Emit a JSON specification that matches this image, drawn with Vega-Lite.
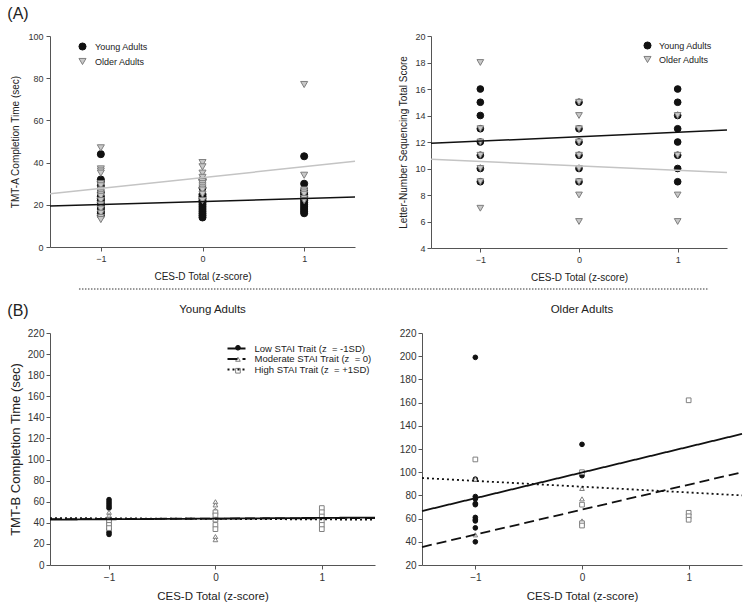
{
  "$schema": "https://vega.github.io/schema/vega-lite/v6.json",
  "background": "white",
  "padding": {"left": 7, "top": 6, "right": 5, "bottom": 5},
  "config": {
    "font": "Liberation Sans",
    "view": {"stroke": null},
    "axis": {"grid": false, "domainColor": "#555555", "tickColor": "#555555", "labelColor": "#333333", "titleColor": "#222222", "titleFontWeight": "normal", "tickSize": 4, "domainWidth": 1},
    "title": {"fontWeight": "normal", "color": "#222222"},
    "legend": {"padding": 0, "labelColor": "#222222"}
  },
  "title": {"text": "(A)", "anchor": "start", "fontSize": 16, "offset": 10, "dx": 0},
  "spacing": 6,
  "resolve": {"scale": {"shape": "independent", "fill": "independent", "stroke": "independent", "strokeDash": "independent"}, "legend": {"shape": "independent", "fill": "independent", "stroke": "independent", "strokeDash": "independent"}},
  "datasets": {
    "tmta": [
      {"x": -1, "y": 44, "group": "Young Adults"}, {"x": -1, "y": 32, "group": "Young Adults"}, {"x": -1, "y": 31, "group": "Young Adults"}, {"x": -1, "y": 29, "group": "Young Adults"}, {"x": -1, "y": 26, "group": "Young Adults"}, {"x": -1, "y": 24, "group": "Young Adults"}, {"x": -1, "y": 23, "group": "Young Adults"}, {"x": -1, "y": 22, "group": "Young Adults"}, {"x": -1, "y": 21, "group": "Young Adults"}, {"x": -1, "y": 20, "group": "Young Adults"}, {"x": -1, "y": 19, "group": "Young Adults"}, {"x": -1, "y": 18, "group": "Young Adults"}, {"x": -1, "y": 17, "group": "Young Adults"}, {"x": -1, "y": 16, "group": "Young Adults"}, {"x": -1, "y": 15, "group": "Young Adults"},
      {"x": 0, "y": 32, "group": "Young Adults"}, {"x": 0, "y": 28, "group": "Young Adults"}, {"x": 0, "y": 25, "group": "Young Adults"}, {"x": 0, "y": 24, "group": "Young Adults"}, {"x": 0, "y": 23, "group": "Young Adults"}, {"x": 0, "y": 22, "group": "Young Adults"}, {"x": 0, "y": 21, "group": "Young Adults"}, {"x": 0, "y": 20, "group": "Young Adults"}, {"x": 0, "y": 19, "group": "Young Adults"}, {"x": 0, "y": 18, "group": "Young Adults"}, {"x": 0, "y": 17, "group": "Young Adults"}, {"x": 0, "y": 16, "group": "Young Adults"}, {"x": 0, "y": 15, "group": "Young Adults"}, {"x": 0, "y": 14, "group": "Young Adults"},
      {"x": 1, "y": 43, "group": "Young Adults"}, {"x": 1, "y": 30, "group": "Young Adults"}, {"x": 1, "y": 27, "group": "Young Adults"}, {"x": 1, "y": 26, "group": "Young Adults"}, {"x": 1, "y": 25, "group": "Young Adults"}, {"x": 1, "y": 24, "group": "Young Adults"}, {"x": 1, "y": 23, "group": "Young Adults"}, {"x": 1, "y": 22, "group": "Young Adults"}, {"x": 1, "y": 21, "group": "Young Adults"}, {"x": 1, "y": 20, "group": "Young Adults"}, {"x": 1, "y": 19, "group": "Young Adults"}, {"x": 1, "y": 18, "group": "Young Adults"}, {"x": 1, "y": 17, "group": "Young Adults"}, {"x": 1, "y": 16, "group": "Young Adults"},
      {"x": -1, "y": 47, "group": "Older Adults"}, {"x": -1, "y": 37, "group": "Older Adults"}, {"x": -1, "y": 36, "group": "Older Adults"}, {"x": -1, "y": 35, "group": "Older Adults"}, {"x": -1, "y": 30, "group": "Older Adults"}, {"x": -1, "y": 29, "group": "Older Adults"}, {"x": -1, "y": 27, "group": "Older Adults"}, {"x": -1, "y": 26, "group": "Older Adults"}, {"x": -1, "y": 25, "group": "Older Adults"}, {"x": -1, "y": 24, "group": "Older Adults"}, {"x": -1, "y": 22, "group": "Older Adults"}, {"x": -1, "y": 20, "group": "Older Adults"}, {"x": -1, "y": 18, "group": "Older Adults"}, {"x": -1, "y": 16, "group": "Older Adults"}, {"x": -1, "y": 14, "group": "Older Adults"}, {"x": -1, "y": 13, "group": "Older Adults"},
      {"x": 0, "y": 40, "group": "Older Adults"}, {"x": 0, "y": 38, "group": "Older Adults"}, {"x": 0, "y": 35, "group": "Older Adults"}, {"x": 0, "y": 33, "group": "Older Adults"}, {"x": 0, "y": 31, "group": "Older Adults"}, {"x": 0, "y": 30, "group": "Older Adults"}, {"x": 0, "y": 29, "group": "Older Adults"}, {"x": 0, "y": 28, "group": "Older Adults"}, {"x": 0, "y": 27, "group": "Older Adults"}, {"x": 0, "y": 25, "group": "Older Adults"}, {"x": 0, "y": 22, "group": "Older Adults"},
      {"x": 1, "y": 77, "group": "Older Adults"}, {"x": 1, "y": 34, "group": "Older Adults"}, {"x": 1, "y": 27, "group": "Older Adults"}, {"x": 1, "y": 26, "group": "Older Adults"}, {"x": 1, "y": 25, "group": "Older Adults"}, {"x": 1, "y": 23, "group": "Older Adults"}, {"x": 1, "y": 22, "group": "Older Adults"}
    ],
    "tmta_fit": [
      {"x": -1.5, "y": 19.4, "group": "Young Adults"}, {"x": 1.5, "y": 23.7, "group": "Young Adults"},
      {"x": -1.5, "y": 25.2, "group": "Older Adults"}, {"x": 1.5, "y": 40.6, "group": "Older Adults"}
    ],
    "lns": [
      {"x": -1, "y": 16, "group": "Young Adults"}, {"x": -1, "y": 15, "group": "Young Adults"}, {"x": -1, "y": 14, "group": "Young Adults"}, {"x": -1, "y": 13, "group": "Young Adults"}, {"x": -1, "y": 12, "group": "Young Adults"}, {"x": -1, "y": 11, "group": "Young Adults"}, {"x": -1, "y": 10, "group": "Young Adults"}, {"x": -1, "y": 9, "group": "Young Adults"},
      {"x": 0, "y": 15, "group": "Young Adults"}, {"x": 0, "y": 13, "group": "Young Adults"}, {"x": 0, "y": 12, "group": "Young Adults"}, {"x": 0, "y": 11, "group": "Young Adults"}, {"x": 0, "y": 10, "group": "Young Adults"}, {"x": 0, "y": 9, "group": "Young Adults"},
      {"x": 1, "y": 16, "group": "Young Adults"}, {"x": 1, "y": 15, "group": "Young Adults"}, {"x": 1, "y": 14, "group": "Young Adults"}, {"x": 1, "y": 13, "group": "Young Adults"}, {"x": 1, "y": 12, "group": "Young Adults"}, {"x": 1, "y": 11, "group": "Young Adults"}, {"x": 1, "y": 10, "group": "Young Adults"}, {"x": 1, "y": 9, "group": "Young Adults"},
      {"x": -1, "y": 18, "group": "Older Adults"}, {"x": -1, "y": 13, "group": "Older Adults"}, {"x": -1, "y": 12, "group": "Older Adults"}, {"x": -1, "y": 11, "group": "Older Adults"}, {"x": -1, "y": 10, "group": "Older Adults"}, {"x": -1, "y": 9, "group": "Older Adults"}, {"x": -1, "y": 7, "group": "Older Adults"},
      {"x": 0, "y": 15, "group": "Older Adults"}, {"x": 0, "y": 14, "group": "Older Adults"}, {"x": 0, "y": 13, "group": "Older Adults"}, {"x": 0, "y": 12, "group": "Older Adults"}, {"x": 0, "y": 11, "group": "Older Adults"}, {"x": 0, "y": 10, "group": "Older Adults"}, {"x": 0, "y": 9, "group": "Older Adults"}, {"x": 0, "y": 8, "group": "Older Adults"}, {"x": 0, "y": 6, "group": "Older Adults"},
      {"x": 1, "y": 14, "group": "Older Adults"}, {"x": 1, "y": 11, "group": "Older Adults"}, {"x": 1, "y": 8, "group": "Older Adults"}, {"x": 1, "y": 6, "group": "Older Adults"}
    ],
    "lns_fit": [
      {"x": -1.5, "y": 11.9, "group": "Young Adults"}, {"x": 1.5, "y": 12.9, "group": "Young Adults"},
      {"x": -1.5, "y": 10.7, "group": "Older Adults"}, {"x": 1.5, "y": 9.7, "group": "Older Adults"}
    ],
    "tmtb_young": [
      {"x": -1, "y": 62, "trait": "Low"}, {"x": -1, "y": 60, "trait": "Low"}, {"x": -1, "y": 58, "trait": "Low"}, {"x": -1, "y": 56, "trait": "Low"}, {"x": -1, "y": 54, "trait": "Low"}, {"x": -1, "y": 40, "trait": "Low"}, {"x": -1, "y": 37, "trait": "Low"}, {"x": -1, "y": 34, "trait": "Low"}, {"x": -1, "y": 31, "trait": "Low"}, {"x": -1, "y": 29, "trait": "Low"},
      {"x": -1, "y": 50, "trait": "Moderate"}, {"x": -1, "y": 47, "trait": "Moderate"}, {"x": -1, "y": 44, "trait": "Moderate"},
      {"x": -1, "y": 42, "trait": "High"}, {"x": -1, "y": 38, "trait": "High"}, {"x": -1, "y": 35, "trait": "High"},
      {"x": 0, "y": 60, "trait": "Moderate"}, {"x": 0, "y": 57, "trait": "Moderate"}, {"x": 0, "y": 52, "trait": "Moderate"}, {"x": 0, "y": 27, "trait": "Moderate"}, {"x": 0, "y": 24, "trait": "Moderate"},
      {"x": 0, "y": 50, "trait": "High"}, {"x": 0, "y": 47, "trait": "High"}, {"x": 0, "y": 43, "trait": "High"}, {"x": 0, "y": 38, "trait": "High"}, {"x": 0, "y": 34, "trait": "High"},
      {"x": 1, "y": 54, "trait": "High"}, {"x": 1, "y": 50, "trait": "High"}, {"x": 1, "y": 46, "trait": "High"}, {"x": 1, "y": 42, "trait": "High"}, {"x": 1, "y": 38, "trait": "High"}, {"x": 1, "y": 34, "trait": "High"}
    ],
    "tmtb_young_fit": [
      {"x": -1.555, "y": 43, "line": "Low"}, {"x": 1.5, "y": 45, "line": "Low"},
      {"x": -1.555, "y": 43.5, "line": "Moderate"}, {"x": 1.5, "y": 44.5, "line": "Moderate"},
      {"x": -1.555, "y": 44.5, "line": "High"}, {"x": 1.5, "y": 43, "line": "High"}
    ],
    "tmtb_older": [
      {"x": -1, "y": 199, "trait": "Low"}, {"x": -1, "y": 94, "trait": "Low"}, {"x": -1, "y": 79, "trait": "Low"}, {"x": -1, "y": 77, "trait": "Low"}, {"x": -1, "y": 73, "trait": "Low"}, {"x": -1, "y": 72, "trait": "Low"}, {"x": -1, "y": 61, "trait": "Low"}, {"x": -1, "y": 59, "trait": "Low"}, {"x": -1, "y": 58, "trait": "Low"}, {"x": -1, "y": 52, "trait": "Low"}, {"x": -1, "y": 40, "trait": "Low"},
      {"x": -1, "y": 94, "trait": "Moderate"}, {"x": -1, "y": 46, "trait": "Moderate"},
      {"x": -1, "y": 111, "trait": "High"},
      {"x": 0, "y": 124, "trait": "Low"}, {"x": 0, "y": 97, "trait": "Low"},
      {"x": 0, "y": 86, "trait": "Moderate"}, {"x": 0, "y": 77, "trait": "Moderate"}, {"x": 0, "y": 58, "trait": "Moderate"},
      {"x": 0, "y": 100, "trait": "High"}, {"x": 0, "y": 72, "trait": "High"}, {"x": 0, "y": 56, "trait": "High"}, {"x": 0, "y": 54, "trait": "High"},
      {"x": 1, "y": 162, "trait": "High"}, {"x": 1, "y": 65, "trait": "High"}, {"x": 1, "y": 62, "trait": "High"}, {"x": 1, "y": 59, "trait": "High"}
    ],
    "tmtb_older_fit": [
      {"x": -1.5, "y": 66.5, "line": "Low"}, {"x": 1.5, "y": 133, "line": "Low"},
      {"x": -1.5, "y": 35.5, "line": "Moderate"}, {"x": 1.5, "y": 100, "line": "Moderate"},
      {"x": -1.5, "y": 95, "line": "High"}, {"x": 1.5, "y": 80, "line": "High"}
    ]
  },
  "vconcat": [
    {
      "spacing": 40,
      "resolve": {"scale": {"shape": "independent", "fill": "independent", "stroke": "independent", "strokeDash": "independent"}, "legend": {"shape": "independent", "fill": "independent", "stroke": "independent", "strokeDash": "independent"}},
      "hconcat": [
        {
          "width": 305,
          "height": 211,
          "encoding": {
            "x": {"field": "x", "type": "quantitative", "scale": {"domain": [-1.5, 1.5], "nice": false, "zero": false}, "axis": {"values": [-1, 0, 1], "format": "d", "title": "CES-D Total (z-score)", "labelFontSize": 9, "titleFontSize": 10, "labelPadding": 3, "titlePadding": 8}},
            "y": {"field": "y", "type": "quantitative", "scale": {"domain": [0, 100], "nice": false, "zero": false}, "axis": {"values": [0, 20, 40, 60, 80, 100], "title": "TMT-A Completion Time (sec)", "labelFontSize": 9, "titleFontSize": 10, "labelPadding": 3, "titlePadding": 7}}
          },
          "layer": [
            {
              "data": {"name": "tmta"},
              "mark": {"type": "point", "filled": true, "size": 50, "strokeWidth": 1, "opacity": 1},
              "encoding": {
                "shape": {"field": "group", "type": "nominal", "scale": {"domain": ["Young Adults", "Older Adults"], "range": ["circle", "triangle-down"]}, "legend": {"orient": "none", "legendX": 28, "legendY": 6, "title": null, "labelFontSize": 9, "labelOffset": 8, "rowPadding": 3, "symbolSize": 50, "symbolStrokeWidth": 1}},
                "fill": {"field": "group", "type": "nominal", "scale": {"domain": ["Young Adults", "Older Adults"], "range": ["#111111", "#c8c8c8"]}, "legend": {"orient": "none", "legendX": 28, "legendY": 6, "title": null, "labelFontSize": 9, "labelOffset": 8, "rowPadding": 3, "symbolSize": 50, "symbolStrokeWidth": 1}},
                "stroke": {"field": "group", "type": "nominal", "scale": {"domain": ["Young Adults", "Older Adults"], "range": ["#111111", "#7f7f7f"]}, "legend": {"orient": "none", "legendX": 28, "legendY": 6, "title": null, "labelFontSize": 9, "labelOffset": 8, "rowPadding": 3, "symbolSize": 50, "symbolStrokeWidth": 1}}
              }
            },
            {
              "data": {"name": "tmta_fit"},
              "mark": {"type": "line", "strokeWidth": 1.5},
              "encoding": {
                "detail": {"field": "group", "type": "nominal"},
                "stroke": {"condition": {"test": "datum.group === 'Young Adults'", "value": "#111111"}, "value": "#c4c4c4"}
              }
            }
          ]
        },
        {
          "width": 296,
          "height": 212,
          "encoding": {
            "x": {"field": "x", "type": "quantitative", "scale": {"domain": [-1.5, 1.5], "nice": false, "zero": false}, "axis": {"values": [-1, 0, 1], "format": "d", "title": "CES-D Total (z-score)", "labelFontSize": 9, "titleFontSize": 10, "labelPadding": 3, "titlePadding": 8}},
            "y": {"field": "y", "type": "quantitative", "scale": {"domain": [4, 20], "nice": false, "zero": false}, "axis": {"values": [4, 6, 8, 10, 12, 14, 16, 18, 20], "title": "Letter-Number Sequencing Total Score", "labelFontSize": 9, "titleFontSize": 10, "labelPadding": 2, "titlePadding": 6}}
          },
          "layer": [
            {
              "data": {"name": "lns"},
              "mark": {"type": "point", "filled": true, "size": 45, "strokeWidth": 1, "opacity": 1},
              "encoding": {
                "shape": {"field": "group", "type": "nominal", "scale": {"domain": ["Young Adults", "Older Adults"], "range": ["circle", "triangle-down"]}, "legend": {"orient": "none", "legendX": 212, "legendY": 5, "title": null, "labelFontSize": 9, "labelOffset": 7, "rowPadding": 2, "symbolSize": 50, "symbolStrokeWidth": 1}},
                "fill": {"field": "group", "type": "nominal", "scale": {"domain": ["Young Adults", "Older Adults"], "range": ["#111111", "#c8c8c8"]}, "legend": {"orient": "none", "legendX": 212, "legendY": 5, "title": null, "labelFontSize": 9, "labelOffset": 7, "rowPadding": 2, "symbolSize": 50, "symbolStrokeWidth": 1}},
                "stroke": {"field": "group", "type": "nominal", "scale": {"domain": ["Young Adults", "Older Adults"], "range": ["#111111", "#7f7f7f"]}, "legend": {"orient": "none", "legendX": 212, "legendY": 5, "title": null, "labelFontSize": 9, "labelOffset": 7, "rowPadding": 2, "symbolSize": 50, "symbolStrokeWidth": 1}}
              }
            },
            {
              "data": {"name": "lns_fit"},
              "mark": {"type": "line", "strokeWidth": 1.5},
              "encoding": {
                "detail": {"field": "group", "type": "nominal"},
                "stroke": {"condition": {"test": "datum.group === 'Young Adults'", "value": "#111111"}, "value": "#c4c4c4"}
              }
            }
          ]
        }
      ]
    },
    {
      "width": 659,
      "height": 7,
      "data": {"values": [{"start": 0, "end": 1, "level": 1}]},
      "mark": {"type": "rule", "color": "#333333", "strokeWidth": 1, "strokeDash": [1.5, 1.5]},
      "encoding": {
        "x": {"field": "start", "type": "quantitative", "scale": {"domain": [-0.046, 1]}, "axis": null},
        "x2": {"field": "end"},
        "y": {"field": "level", "type": "quantitative", "scale": {"domain": [0, 1]}, "axis": null}
      }
    },
    {
      "spacing": 20,
      "title": {"text": "(B)", "anchor": "start", "fontSize": 16, "offset": -15, "dx": -2},
      "resolve": {"scale": {"shape": "independent", "fill": "independent", "stroke": "independent", "strokeDash": "independent"}, "legend": {"shape": "independent", "fill": "independent", "stroke": "independent", "strokeDash": "independent"}},
      "hconcat": [
        {
          "width": 325,
          "height": 232,
          "title": {"text": "Young Adults", "fontSize": 11.5, "offset": 2, "baseline": "bottom"},
          "encoding": {
            "x": {"field": "x", "type": "quantitative", "scale": {"domain": [-1.555, 1.5], "nice": false, "zero": false}, "axis": {"values": [-1, 0, 1], "format": "d", "title": "CES-D Total (z-score)", "labelFontSize": 10, "titleFontSize": 11.5, "labelPadding": 3, "titlePadding": 8}},
            "y": {"field": "y", "type": "quantitative", "scale": {"domain": [0, 220], "nice": false, "zero": false}, "axis": {"values": [0, 20, 40, 60, 80, 100, 120, 140, 160, 180, 200, 220], "title": "TMT-B Completion Time (sec)", "labelFontSize": 10, "titleFontSize": 13, "labelPadding": 2, "titlePadding": 5}}
          },
          "layer": [
            {
              "data": {"name": "tmtb_young"},
              "mark": {"type": "point", "filled": true, "size": 22, "strokeWidth": 1, "opacity": 1},
              "encoding": {
                "shape": {"field": "trait", "type": "nominal", "scale": {"domain": ["Low", "Moderate", "High"], "range": ["circle", "triangle-up", "square"]}, "legend": {"orient": "none", "legendX": 181, "legendY": 10, "title": null, "labelOpacity": 0, "labelExpr": "''", "labelFontSize": 9.5, "rowPadding": 0.5, "symbolSize": 22, "symbolOffset": 2.2, "symbolStrokeWidth": 1}},
                "fill": {"field": "trait", "type": "nominal", "scale": {"domain": ["Low", "Moderate", "High"], "range": ["#111111", "#ffffff", "#ffffff"]}, "legend": {"orient": "none", "legendX": 181, "legendY": 10, "title": null, "labelOpacity": 0, "labelExpr": "''", "labelFontSize": 9.5, "rowPadding": 0.5, "symbolSize": 22, "symbolOffset": 2.2, "symbolStrokeWidth": 1}},
                "stroke": {"field": "trait", "type": "nominal", "scale": {"domain": ["Low", "Moderate", "High"], "range": ["#111111", "#808080", "#808080"]}, "legend": {"orient": "none", "legendX": 181, "legendY": 10, "title": null, "labelOpacity": 0, "labelExpr": "''", "labelFontSize": 9.5, "rowPadding": 0.5, "symbolSize": 22, "symbolOffset": 2.2, "symbolStrokeWidth": 1}}
              }
            },
            {
              "data": {"name": "tmtb_young_fit"},
              "mark": {"type": "line", "color": "#111111", "strokeWidth": 1.8},
              "encoding": {
                "strokeDash": {"field": "line", "type": "nominal", "sort": ["Low", "Moderate", "High"], "scale": {"range": [[1, 0], [10, 5], [2, 3]]}, "legend": {"orient": "none", "legendX": 181, "legendY": 10, "title": null, "symbolType": "M-2,0H2", "symbolSize": 81, "symbolStrokeColor": "#111111", "symbolStrokeWidth": 1.8, "labelFontSize": 9.5, "labelOffset": 12.5, "rowPadding": 0.5, "labelExpr": "datum.label === 'Low' ? 'Low STAI Trait (z \u00a0= -1SD)' : datum.label === 'Moderate' ? 'Moderate STAI Trait (z \u00a0= 0)' : 'High STAI Trait (z \u00a0= +1SD)'"}}
              }
            }
          ]
        },
        {
          "width": 320,
          "height": 232,
          "title": {"text": "Older Adults", "fontSize": 11.5, "offset": 2, "baseline": "bottom"},
          "encoding": {
            "x": {"field": "x", "type": "quantitative", "scale": {"domain": [-1.5, 1.5], "nice": false, "zero": false}, "axis": {"values": [-1, 0, 1], "format": "d", "title": "CES-D Total (z-score)", "labelFontSize": 10, "titleFontSize": 11.5, "labelPadding": 3, "titlePadding": 8}},
            "y": {"field": "y", "type": "quantitative", "scale": {"domain": [20, 220], "nice": false, "zero": false}, "axis": {"values": [20, 40, 60, 80, 100, 120, 140, 160, 180, 200, 220], "title": null, "labelFontSize": 10, "labelPadding": 2}}
          },
          "layer": [
            {
              "data": {"name": "tmtb_older"},
              "mark": {"type": "point", "filled": true, "size": 22, "strokeWidth": 1, "opacity": 1},
              "encoding": {
                "shape": {"field": "trait", "type": "nominal", "scale": {"domain": ["Low", "Moderate", "High"], "range": ["circle", "triangle-up", "square"]}, "legend": null},
                "fill": {"field": "trait", "type": "nominal", "scale": {"domain": ["Low", "Moderate", "High"], "range": ["#111111", "#ffffff", "#ffffff"]}, "legend": null},
                "stroke": {"field": "trait", "type": "nominal", "scale": {"domain": ["Low", "Moderate", "High"], "range": ["#111111", "#808080", "#808080"]}, "legend": null}
              }
            },
            {
              "data": {"name": "tmtb_older_fit"},
              "mark": {"type": "line", "color": "#111111", "strokeWidth": 1.8},
              "encoding": {
                "strokeDash": {"field": "line", "type": "nominal", "sort": ["Low", "Moderate", "High"], "scale": {"range": [[1, 0], [10, 5], [2, 3]]}, "legend": null}
              }
            }
          ]
        }
      ]
    }
  ]
}
